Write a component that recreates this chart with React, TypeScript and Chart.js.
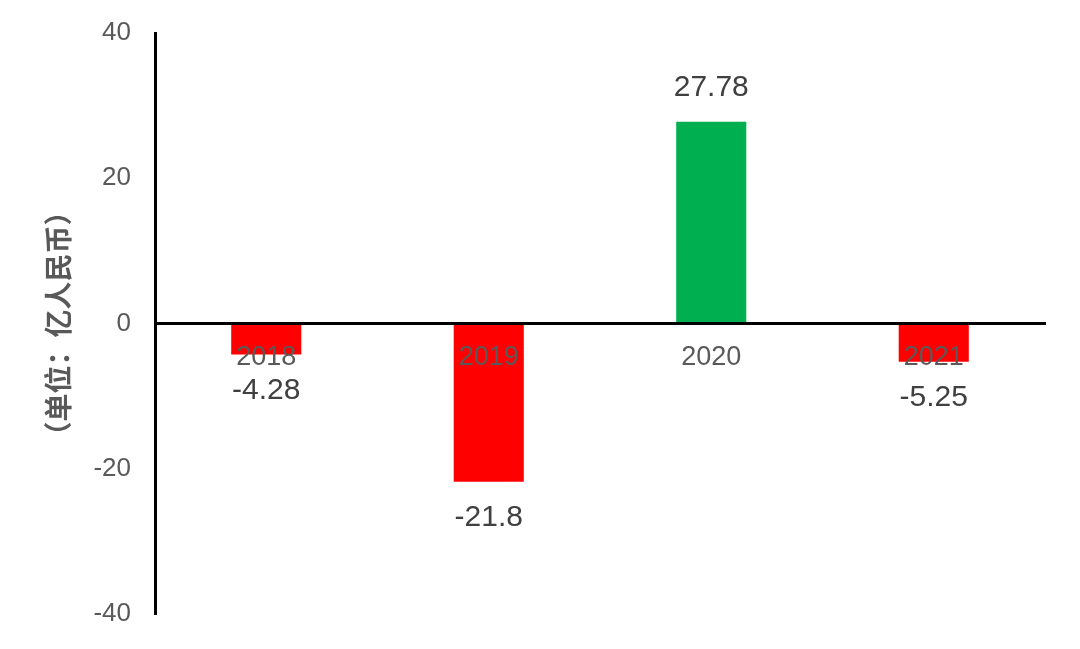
import React, { useEffect, useRef } from "react";
import { Chart, registerables } from "chart.js";

Chart.register(...registerables);

const categories = ["2018", "2019", "2020", "2021"];
const values = [-4.28, -21.8, 27.78, -5.25];
const yTicks = [-40, -20, 0, 20, 40];
const yTitle = "（单位：亿人民币）";

const RED = "#FF0000";
const GREEN = "#00B050";

const valueLabelPlugin = {
  id: "valueLabels",
  afterDatasetsDraw(chart: any) {
    const ctx = chart.ctx;
    const meta = chart.getDatasetMeta(0);
    ctx.save();
    ctx.font = "30px 'Liberation Sans', Arial, sans-serif";
    ctx.fillStyle = "#404040";
    ctx.textAlign = "center";
    ctx.textBaseline = "middle";
    meta.data.forEach((bar: any, i: number) => {
      const v = values[i];
      const y = v >= 0 ? bar.y - 34 : bar.y + 36;
      ctx.fillText(String(v), bar.x, y);
    });
    ctx.restore();
  },
};

export default function App() {
  const ref = useRef<HTMLCanvasElement | null>(null);

  useEffect(() => {
    if (!ref.current) return;
    const chart = new Chart(ref.current, {
      type: "bar",
      data: {
        labels: categories,
        datasets: [
          {
            data: values,
            backgroundColor: values.map((v) => (v >= 0 ? GREEN : RED)),
            borderWidth: 0,
            categoryPercentage: 1,
            barPercentage: 0.315,
          },
        ],
      },
      options: {
        animation: false,
        responsive: false,
        layout: { padding: { top: 33, right: 35, bottom: 35, left: 0 } },
        plugins: {
          legend: { display: false },
          tooltip: { enabled: false },
        },
        scales: {
          x: {
            position: { y: 0 } as any,
            grid: { display: false, drawTicks: false },
            border: { display: true, color: "#000000", width: 3, z: 1 } as any,
            ticks: {
              z: 1,
              color: "#595959",
              font: { size: 27, family: "'Liberation Sans', Arial, sans-serif" },
              padding: 18,
              maxRotation: 0,
            },
          },
          y: {
            min: -40,
            max: 40,
            afterFit(scale: any) {
              scale.width = 155;
              scale.paddingTop = 0;
              scale.paddingBottom = 0;
            },
            afterBuildTicks(scale: any) {
              scale.ticks = yTicks.map((v) => ({ value: v }));
            },
            grid: { display: false, drawTicks: false },
            border: { display: true, color: "#000000", width: 3 },
            ticks: {
              color: "#595959",
              font: { size: 26, family: "'Liberation Sans', Arial, sans-serif" },
              padding: 24,
            },
            title: {
              display: true,
              text: yTitle,
              color: "#595959",
              font: { size: 28, weight: "bold", family: "'Noto Sans CJK SC', sans-serif" },
              padding: { top: 42, bottom: 0 },
            },
          },
        },
      },
      plugins: [valueLabelPlugin],
    });
    return () => chart.destroy();
  }, []);

  return (
    <div style={{ position: "fixed", left: 0, top: 0, width: 1080, height: 649, background: "#fff" }}>
      <canvas ref={ref} width={1080} height={649} />
    </div>
  );
}
